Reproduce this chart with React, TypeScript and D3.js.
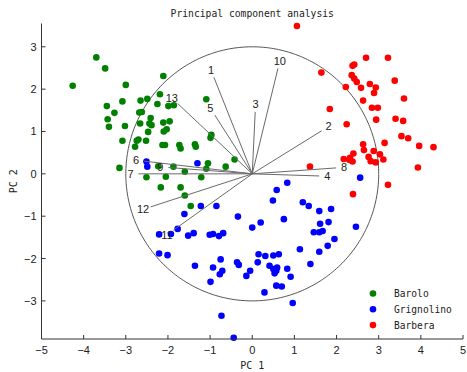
import React from "react";
import * as d3 from "d3";

// PCA scores (PC1, PC2) per cultivar
const barolo: [number, number][] = [
  [-3.7, 2.75], [-3.49, 2.49], [-4.26, 2.08], [-2.11, 2.31], [-3.0, 2.1],
  [-2.19, 1.88], [-3.45, 1.6], [-3.08, 1.71], [-2.65, 1.73], [-2.49, 1.77],
  [-2.25, 1.65], [-1.99, 1.6], [-1.86, 1.62], [-1.09, 1.76], [-3.27, 1.44],
  [-3.43, 1.29], [-3.4, 1.11], [-3.02, 1.13], [-2.68, 1.45], [-2.62, 1.46],
  [-2.41, 1.32], [-2.44, 1.19], [-2.66, 1.19], [-2.11, 1.21], [-1.96, 1.24],
  [-2.39, 1.15], [-2.47, 0.99], [-2.1, 1.0], [-2.03, 1.05], [-3.08, 0.78],
  [-2.74, 0.78], [-2.7, 0.81], [-2.52, 0.78], [-2.78, 0.64], [-2.13, 0.68],
  [-2.07, 0.68], [-1.73, 0.68], [-1.7, 0.6], [-1.36, 0.7], [-1.34, 0.64],
  [-0.97, 0.92], [-0.99, 0.85], [-0.42, 0.34], [-1.05, 0.25], [-0.63, 0.17],
  [-3.15, 0.14], [-2.23, 0.18], [-1.87, 0.17], [-1.6, 0.05], [-1.09, 0.12],
  [-2.51, -0.08], [-2.05, -0.07], [-1.21, -0.08], [-2.17, -0.32], [-1.7, -0.32],
  [-1.6, -0.51], [-1.46, -0.76],
];

const grignolino: [number, number][] = [
  [-2.51, 0.29], [-2.49, 0.17], [-1.3, 0.25], [-1.61, -0.95], [-1.22, -0.76],
  [-0.85, -0.76], [-0.34, -1.01], [0.0, -1.27], [0.58, -0.38], [0.83, -0.21],
  [0.49, -0.63], [1.2, -0.67], [1.34, -0.76], [1.59, -0.88], [1.87, -0.83],
  [2.56, -0.09], [0.75, -1.07], [0.2, -1.15], [1.61, -1.18], [1.81, -1.14],
  [1.46, -1.38], [1.59, -1.38], [1.67, -1.35], [2.46, -1.25], [1.95, -1.54],
  [1.79, -1.7], [1.59, -1.84], [1.13, -1.78], [1.38, -2.13], [-2.21, -1.43],
  [-1.93, -1.42], [-1.77, -1.3], [-1.52, -1.46], [-1.39, -1.4], [-1.01, -1.44],
  [-0.93, -1.42], [-0.79, -1.47], [-0.69, -1.4], [-2.21, -1.88], [-2.01, -1.92],
  [-1.36, -2.17], [-0.93, -2.21], [-0.75, -2.02], [-0.71, -2.29], [-0.77, -2.37],
  [-0.99, -2.55], [-0.36, -2.09], [-0.32, -2.15], [-0.05, -2.29], [-0.14, -2.41],
  [0.13, -2.09], [0.15, -1.9], [0.31, -1.94], [0.5, -1.93], [0.63, -1.9],
  [0.41, -2.17], [0.5, -2.25], [0.59, -2.21], [0.53, -2.35], [0.57, -2.29],
  [0.83, -2.24], [0.91, -2.43], [0.57, -2.64], [0.7, -2.66], [0.29, -2.8],
  [0.96, -3.05], [-0.73, -3.35], [-0.44, -3.87],
];

const barbera: [number, number][] = [
  [1.06, 3.49], [2.7, 2.74], [3.22, 2.74], [2.42, 2.58], [2.38, 2.55],
  [1.64, 2.39], [2.36, 2.33], [2.42, 2.25], [2.48, 2.17], [2.22, 2.05],
  [2.58, 2.03], [2.79, 2.12], [2.93, 2.04], [2.89, 1.91], [3.38, 2.2],
  [2.63, 1.73], [3.6, 1.78], [2.84, 1.56], [2.98, 1.56], [1.84, 1.53],
  [2.94, 1.28], [3.4, 1.3], [3.58, 1.25], [2.24, 1.17], [3.14, 0.73],
  [3.54, 0.89], [3.7, 0.84], [3.96, 0.66], [4.3, 0.63], [2.63, 0.7],
  [2.65, 0.56], [2.88, 0.54], [3.03, 0.46], [3.11, 0.34], [2.76, 0.4],
  [2.81, 0.3], [2.93, 0.27], [2.17, 0.35], [2.32, 0.38], [2.4, 0.48],
  [2.38, 0.29], [2.3, 0.33], [3.93, 0.15], [1.37, 0.17], [3.22, -0.26],
  [2.39, -0.48],
];

// variable loadings (scaled), index 1..13
const loadingNames = ["1", "2", "3", "4", "5", "6", "7", "8", "9", "10", "11", "12", "13"];
const loadingX = [-0.91, 1.65, 0.07, 1.59, -0.89, -2.57, -2.7, 1.99, -1.99, 0.61, -1.87, -2.41, -1.77];
const loadingY = [2.28, 1.02, 1.46, -0.05, 1.39, 0.3, 0.0, 0.14, 0.15, 2.49, -1.33, -0.78, 1.66];

const circleRadius = 3;
const xTicks = [-5, -4, -3, -2, -1, 0, 1, 2, 3, 4, 5];
const yTicks = [-3, -2, -1, 0, 1, 2, 3];

const groups = [
  { name: "Barolo", color: "#008000", data: barolo },
  { name: "Grignolino", color: "#0000ff", data: grignolino },
  { name: "Barbera", color: "#ff0000", data: barbera },
];

const W = 467;
const H = 372;
const mono = "'DejaVu Sans Mono', monospace";
const sans = "'Liberation Sans', Arial, sans-serif";

export default function App() {
  const x = d3.scaleLinear().domain([-5, 5]).range([41.5, 463]);
  const y = d3.scaleLinear().domain([-3.9, 3.55]).range([339, 23.5]);
  const [x0, x1] = x.range();
  const [y0, y1] = y.range();

  const circlePath = d3.line<number>()
    .x((t) => x(circleRadius * Math.cos(t)))
    .y((t) => y(circleRadius * Math.sin(t)))(d3.range(0, 2 * Math.PI + 0.01, 0.02));

  return (
    <svg width={W} height={H} style={{ position: "absolute", left: 0, top: 0, background: "#fff" }}>
      <text x={(x0 + x1) / 2} y={17} textAnchor="middle" fontFamily={mono} fontSize={9.7} fill="#222">
        Principal component analysis
      </text>

      {/* circle of radius 3 */}
      <path d={circlePath ?? ""} fill="none" stroke="#555" strokeWidth={1} />

      {/* points */}
      {groups.map((g) =>
        g.data.map((d, i) => (
          <circle key={g.name + i} cx={x(d[0])} cy={y(d[1])} r={3.3} fill={g.color} />
        ))
      )}

      {/* loading vectors */}
      {loadingNames.map((n, i) => {
        const px = x(loadingX[i]);
        const py = y(loadingY[i]);
        const dx = px - x(0);
        const dy = py - y(0);
        const len = Math.sqrt(dx * dx + dy * dy) || 1;
        return (
          <g key={"ld" + n}>
            <line x1={x(0)} y1={y(0)} x2={px} y2={py} stroke="#6a6a6a" strokeWidth={1} />
            <text
              x={px + (dx / len) * 8}
              y={py + (dy / len) * 8}
              textAnchor="middle"
              dominantBaseline="central"
              fontFamily={sans}
              fontSize={11}
              fill="#222"
            >
              {n}
            </text>
          </g>
        );
      })}

      {/* axes */}
      <line x1={x0} y1={y0} x2={x1} y2={y0} stroke="#333" />
      <line x1={x0} y1={y0} x2={x0} y2={y1} stroke="#333" />
      {xTicks.map((t) => (
        <g key={"xt" + t}>
          <line x1={x(t)} x2={x(t)} y1={y0} y2={y0 - 4} stroke="#333" />
          <text x={x(t)} y={y0 + 15} textAnchor="middle" fontFamily={sans} fontSize={11} fill="#222">
            {d3.format("")(t)}
          </text>
        </g>
      ))}
      {yTicks.map((t) => (
        <g key={"yt" + t}>
          <line x1={x0} x2={x0 + 4} y1={y(t)} y2={y(t)} stroke="#333" />
          <text x={x0 - 5} y={y(t)} textAnchor="end" dominantBaseline="central" fontFamily={sans} fontSize={11} fill="#222">
            {d3.format("")(t)}
          </text>
        </g>
      ))}
      <text x={(x0 + x1) / 2} y={369} textAnchor="middle" fontFamily={mono} fontSize={10} fill="#222">
        PC 1
      </text>
      <text
        transform={`translate(17,${(y0 + y1) / 2}) rotate(-90)`}
        textAnchor="middle"
        fontFamily={mono}
        fontSize={10}
        fill="#222"
      >
        PC 2
      </text>

      {/* legend */}
      {groups.map((g, i) => (
        <g key={"lg" + g.name} transform={`translate(373,${293.5 + i * 15.8})`}>
          <circle r={3.3} fill={g.color} />
          <text x={21} y={0} dominantBaseline="central" fontFamily={mono} fontSize={9.6} fill="#222">
            {g.name}
          </text>
        </g>
      ))}
    </svg>
  );
}
